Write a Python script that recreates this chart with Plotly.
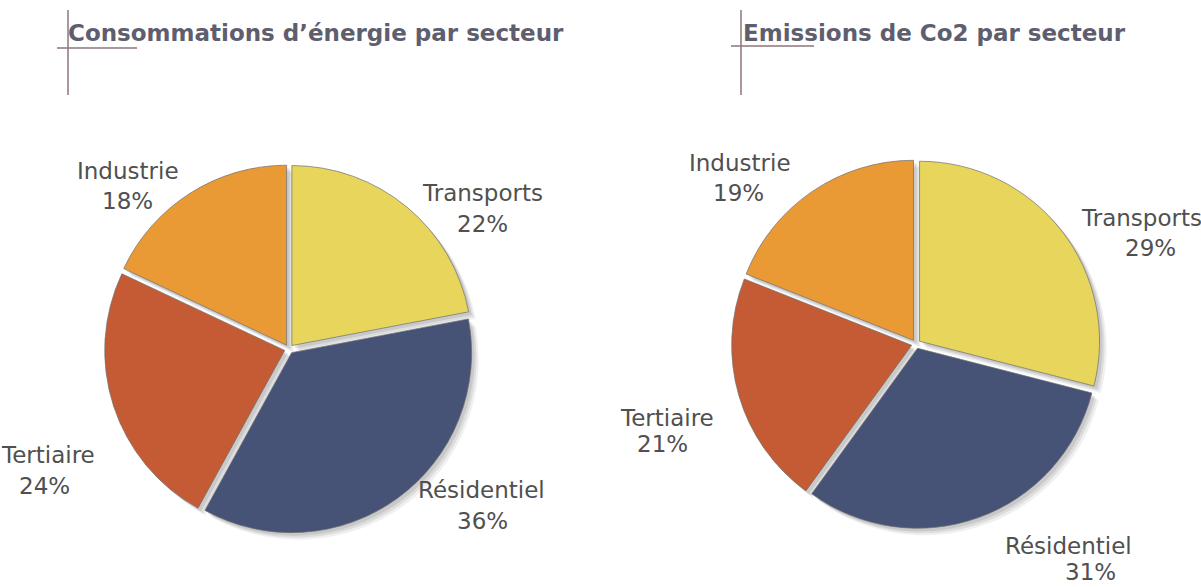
import plotly.graph_objects as go

W, H = 1201, 587

sectors = ["Transports", "Résidentiel", "Tertiaire", "Industrie"]
energy_pct = [22, 36, 24, 18]
co2_pct = [29, 31, 21, 19]
titles = ["Consommations d’énergie par secteur", "Emissions de Co2 par secteur"]
colors = ["#E8D55C", "#475376", "#C55B34", "#EA9A35"]

# layout (pixels)
pie_centers = [(289, 349), (916, 344)]
pie_radius = 180
pull = 0.025
# label positions (name line, percent line) in pixels
label_pos = [
    [((482, 193), (482, 224)), ((481, 490), (482, 521)), ((48, 455), (44, 486)), ((128, 171), (127, 201))],
    [((1141, 218), (1150, 248)), ((1068, 546), (1090, 572)), ((667, 418), (662, 444)), ((740, 163), (738, 193))],
]
title_pos = [(66, 33), (741, 33)]
cross = [((68, 10, 95), (57, 137, 48)), ((741, 10, 95), (731, 814, 46))]

def px(x):
    return x / W

def py(y):
    return 1 - y / H

fig = go.Figure()
for (cx, cy), vals in zip(pie_centers, [energy_pct, co2_pct]):
    half = pie_radius * (1 + pull)
    # soft drop shadow
    for off, op in [(7, 0.08), (5, 0.10), (3, 0.12)]:
        fig.add_trace(go.Pie(
            labels=sectors, values=vals, sort=False, direction="clockwise", rotation=0,
            pull=pull, textinfo="none", hoverinfo="skip", showlegend=False,
            marker=dict(colors=[f"rgba(60,60,60,{op})"] * 4, line=dict(width=0)),
            domain=dict(x=[px(cx + off - half), px(cx + off + half)],
                        y=[py(cy + off + half), py(cy + off - half)]),
        ))
    fig.add_trace(go.Pie(
        labels=sectors, values=vals, sort=False, direction="clockwise", rotation=0,
        pull=pull, textinfo="none", showlegend=False,
        marker=dict(colors=colors, line=dict(color="rgba(110,110,110,0.7)", width=1)),
        domain=dict(x=[px(cx - half), px(cx + half)],
                    y=[py(cy + half), py(cy - half)]),
    ))

annotations = []
lab_font = dict(family="DejaVu Sans", size=23, color="#505050")
for vals, positions in zip([energy_pct, co2_pct], label_pos):
    for name, v, (p1, p2) in zip(sectors, vals, positions):
        annotations.append(dict(x=px(p1[0]), y=py(p1[1]), xref="paper", yref="paper",
                                text=name, showarrow=False, xanchor="center", yanchor="middle",
                                font=lab_font))
        annotations.append(dict(x=px(p2[0]), y=py(p2[1]), xref="paper", yref="paper",
                                text=f"{v}%", showarrow=False, xanchor="center", yanchor="middle",
                                font=lab_font))
for t, (tx, ty) in zip(titles, title_pos):
    annotations.append(dict(x=px(tx), y=py(ty), xref="paper", yref="paper",
                            text=f"<b>{t}</b>", showarrow=False, xanchor="left", yanchor="middle",
                            font=dict(family="DejaVu Sans", size=23, color="#5E5E6E")))

shapes = []
for (vx, vy0, vy1), (hx0, hx1, hy) in cross:
    shapes.append(dict(type="line", xref="paper", yref="paper", x0=px(vx), x1=px(vx),
                       y0=py(vy0), y1=py(vy1), line=dict(color="#8C7478", width=1.5)))
    shapes.append(dict(type="line", xref="paper", yref="paper", x0=px(hx0), x1=px(hx1),
                       y0=py(hy), y1=py(hy), line=dict(color="#8C7478", width=1.5)))

fig.update_layout(width=W, height=H, margin=dict(l=0, r=0, t=0, b=0),
                  paper_bgcolor="white", plot_bgcolor="white",
                  annotations=annotations, shapes=shapes)
fig.write_html("out.html", config={"displayModeBar": False},
               post_script="document.body.style.margin='0px';document.body.style.overflow='hidden';")
